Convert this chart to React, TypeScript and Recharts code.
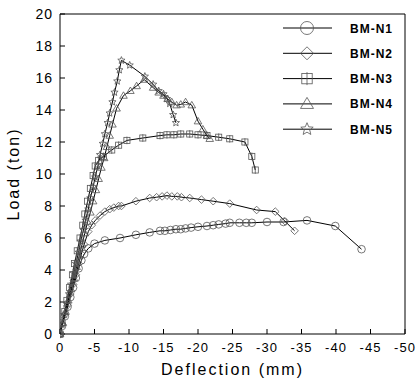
import { LineChart, Line, XAxis, YAxis, ReferenceLine } from 'recharts'

// deflection (mm, negative = downward), load (ton)
const BM_N1: [number, number][] = [
  [0, 0], [-0.3, 0.5], [-0.7, 1.1], [-1.1, 1.7], [-1.5, 2.3], [-1.9, 2.9], [-2.3, 3.5], [-2.7, 4.1],
  [-3.1, 4.6], [-3.5, 5.0], [-4.1, 5.35], [-5, 5.65], [-6.5, 5.85], [-8.7, 6.0], [-11, 6.2], [-13, 6.35],
  [-14.5, 6.45], [-15.2, 6.45], [-16, 6.5], [-16.8, 6.55], [-17.5, 6.55], [-18.2, 6.6], [-19, 6.65],
  [-20, 6.7], [-21.3, 6.75], [-22.2, 6.8], [-23, 6.85], [-24, 6.9], [-24.6, 6.95], [-26, 6.95],
  [-27, 6.95], [-27.8, 6.95], [-30, 7.0], [-32.4, 7.0], [-35.8, 7.1], [-39.9, 6.75], [-43.7, 5.3],
]

const BM_N2: [number, number][] = [
  [0, 0], [-0.3, 0.6], [-0.7, 1.2], [-1.1, 1.8], [-1.5, 2.5], [-1.9, 3.1], [-2.3, 3.7], [-2.7, 4.4],
  [-3.1, 5.0], [-3.5, 5.6], [-4.1, 6.4], [-4.6, 6.8], [-5.1, 7.1], [-5.8, 7.4], [-6.5, 7.65], [-7.2, 7.8],
  [-7.8, 7.9], [-8.5, 8.0], [-8.9, 8.0], [-11, 8.3], [-13, 8.5], [-14, 8.55], [-14.8, 8.6], [-15.5, 8.65],
  [-16.2, 8.6], [-17, 8.6], [-17.6, 8.55], [-18.8, 8.5], [-20.5, 8.4], [-22.2, 8.3], [-24.6, 8.15],
  [-28.5, 7.75], [-31.2, 7.65], [-32.6, 7.05], [-34, 6.45],
]

const BM_N3: [number, number][] = [
  [0, 0], [-0.3, 0.7], [-0.7, 1.4], [-1, 2.1], [-1.4, 2.9], [-1.8, 3.7], [-2.1, 4.4], [-2.5, 5.2],
  [-2.9, 6.0], [-3.3, 6.8], [-3.6, 7.5], [-4.0, 8.3], [-4.4, 9.1], [-4.8, 9.9], [-5.1, 10.5],
  [-5.6, 10.85], [-6.3, 11.1], [-7.5, 11.5], [-8.5, 11.8], [-9.7, 12.1], [-12, 12.25], [-14.5, 12.4],
  [-15.5, 12.45], [-16.5, 12.45], [-17.5, 12.5], [-18.8, 12.5], [-20, 12.45], [-21.3, 12.4],
  [-23, 12.3], [-24.6, 12.2], [-26.8, 12.0], [-27.8, 11.1], [-28.3, 10.25],
]

const BM_N4: [number, number][] = [
  [0, 0], [-0.4, 0.7], [-0.8, 1.4], [-1.2, 2.1], [-1.6, 2.8], [-2, 3.5], [-2.4, 4.2], [-2.8, 4.9],
  [-3.2, 5.6], [-3.6, 6.3], [-4, 7], [-4.4, 7.6], [-4.8, 8.3], [-5.2, 9], [-5.6, 9.7], [-6, 10.4],
  [-6.4, 11], [-6.8, 11.7], [-7.2, 12.4], [-7.6, 13.1], [-8.2, 14.1], [-9.2, 14.9], [-10.2, 15.2],
  [-11.1, 15.5], [-12.2, 15.9], [-13.5, 15.4], [-14.3, 15.1], [-15, 14.9], [-15.6, 14.7], [-16.2, 14.5],
  [-16.9, 14.3], [-17.5, 14.35], [-18.2, 14.5], [-19.1, 14.3], [-20, 13.3], [-20.7, 12.8],
  [-21.3, 12.4], [-21.7, 12.2],
]

const BM_N5: [number, number][] = [
  [0, 0], [-0.3, 0.6], [-0.6, 1.2], [-1, 1.9], [-1.3, 2.5], [-1.6, 3.1], [-2, 3.8], [-2.3, 4.4],
  [-2.7, 5.1], [-3, 5.8], [-3.4, 6.5], [-3.7, 7.1], [-4.1, 7.8], [-4.4, 8.5], [-4.8, 9.2], [-5.1, 9.8],
  [-5.5, 10.5], [-5.8, 11.2], [-6.2, 11.9], [-6.5, 12.5], [-6.9, 13.2], [-7.2, 13.8], [-7.6, 14.5],
  [-7.9, 15.1], [-8.3, 15.8], [-8.6, 16.5], [-8.9, 17.1], [-10.1, 16.8], [-12.3, 16.1], [-13.5, 15.6],
  [-14.3, 15.2], [-15, 15.0], [-15.5, 14.7], [-15.9, 14.4], [-16.4, 13.7], [-16.8, 13.2],
]

const X_TICKS = [0, -5, -10, -15, -20, -25, -30, -35, -40, -45, -50]
const Y_TICKS = [0, 2, 4, 6, 8, 10, 12, 14, 16, 18, 20]

type Shape = 'circle' | 'diamond' | 'square' | 'triangle' | 'star'

const SERIES: { name: string; points: [number, number][]; shape: Shape }[] = [
  { name: 'BM-N1', points: BM_N1, shape: 'circle' },
  { name: 'BM-N2', points: BM_N2, shape: 'diamond' },
  { name: 'BM-N3', points: BM_N3, shape: 'square' },
  { name: 'BM-N4', points: BM_N4, shape: 'triangle' },
  { name: 'BM-N5', points: BM_N5, shape: 'star' },
]

const FONT = '"Liberation Sans", Arial, sans-serif'

function Marker({ shape, cx, cy, s }: { shape: Shape; cx: number; cy: number; s: number }) {
  const st = { fill: 'none', stroke: '#555', strokeWidth: 0.8 }
  if (shape === 'circle') return <circle cx={cx} cy={cy} r={s} {...st} />
  if (shape === 'diamond')
    return <path d={`M${cx},${cy - s}L${cx + s},${cy}L${cx},${cy + s}L${cx - s},${cy}Z`} {...st} />
  if (shape === 'square')
    return (
      <g {...st}>
        <rect x={cx - s * 0.8} y={cy - s * 0.8} width={s * 1.6} height={s * 1.6} />
        <path d={`M${cx},${cy - s}V${cy + s}`} />
      </g>
    )
  if (shape === 'triangle')
    return <path d={`M${cx},${cy - s}L${cx + s},${cy + s * 0.7}L${cx - s},${cy + s * 0.7}Z`} {...st} />
  let d = ''
  for (let i = 0; i < 10; i++) {
    const r = i % 2 === 0 ? s : s * 0.45
    const a = -Math.PI / 2 + (i * Math.PI) / 5
    d += `${i === 0 ? 'M' : 'L'}${cx + r * Math.cos(a)},${cy + r * Math.sin(a)}`
  }
  return <path d={d + 'Z'} {...st} />
}

function LegendBox() {
  return (
    <svg width={416} height={383} style={{ position: 'absolute', left: 0, top: 0, pointerEvents: 'none' }}>
      {SERIES.map((s, i) => {
        const y = 28 + i * 25.3
        return (
          <g key={s.name}>
            <line x1={283} x2={332} y1={y} y2={y} stroke="#000" strokeWidth={1} />
            <Marker shape={s.shape} cx={307} cy={y} s={6.5} />
            <text x={350} y={y + 4.5} fontSize={12} fontWeight="bold" letterSpacing={1} fontFamily={FONT}>
              {s.name}
            </text>
          </g>
        )
      })}
    </svg>
  )
}

export default function App() {
  return (
    <div style={{ position: 'absolute', left: 0, top: 0, width: 416, height: 383, background: '#fff' }}>
      <LineChart width={416} height={383} margin={{ top: 14, right: 11, left: 0, bottom: 0 }} style={{ fontFamily: FONT }}>
        <XAxis
          type="number"
          dataKey="x"
          domain={[-50, 0]}
          reversed
          ticks={X_TICKS}
          allowDataOverflow
          height={49}
          tickSize={-5}
          tickMargin={14}
          stroke="#000"
          tick={{ fontSize: 13, fill: '#000', letterSpacing: 1 }}
          label={{ value: 'Deflection (mm)', position: 'insideBottom', offset: 8, fill: '#000', fontSize: 16, style: { letterSpacing: 2 } }}
        />
        <YAxis
          type="number"
          domain={[0, 20]}
          ticks={Y_TICKS}
          width={60}
          tickSize={-5}
          tickMargin={12}
          stroke="#000"
          tick={{ fontSize: 14, fill: '#000', letterSpacing: 1 }}
          label={{ value: 'Load (ton)', angle: -90, position: 'insideLeft', offset: 13, fill: '#000', fontSize: 16, style: { letterSpacing: 2, textAnchor: 'middle' } }}
        />
        {/* frame: top and right edges of the plot box */}
        <ReferenceLine y={20} stroke="#000" strokeWidth={1} />
        <ReferenceLine x={-50} stroke="#000" strokeWidth={1} />
        {SERIES.map((s) => (
          <Line
            key={s.name}
            name={s.name}
            data={s.points.map(([x, y]) => ({ x, y }))}
            dataKey="y"
            type="linear"
            stroke="#000"
            strokeWidth={1}
            isAnimationActive={false}
            dot={(p: any) => <Marker key={p.index} shape={s.shape} cx={p.cx} cy={p.cy} s={3.8} />}
          />
        ))}
      </LineChart>
      <LegendBox />
    </div>
  )
}
